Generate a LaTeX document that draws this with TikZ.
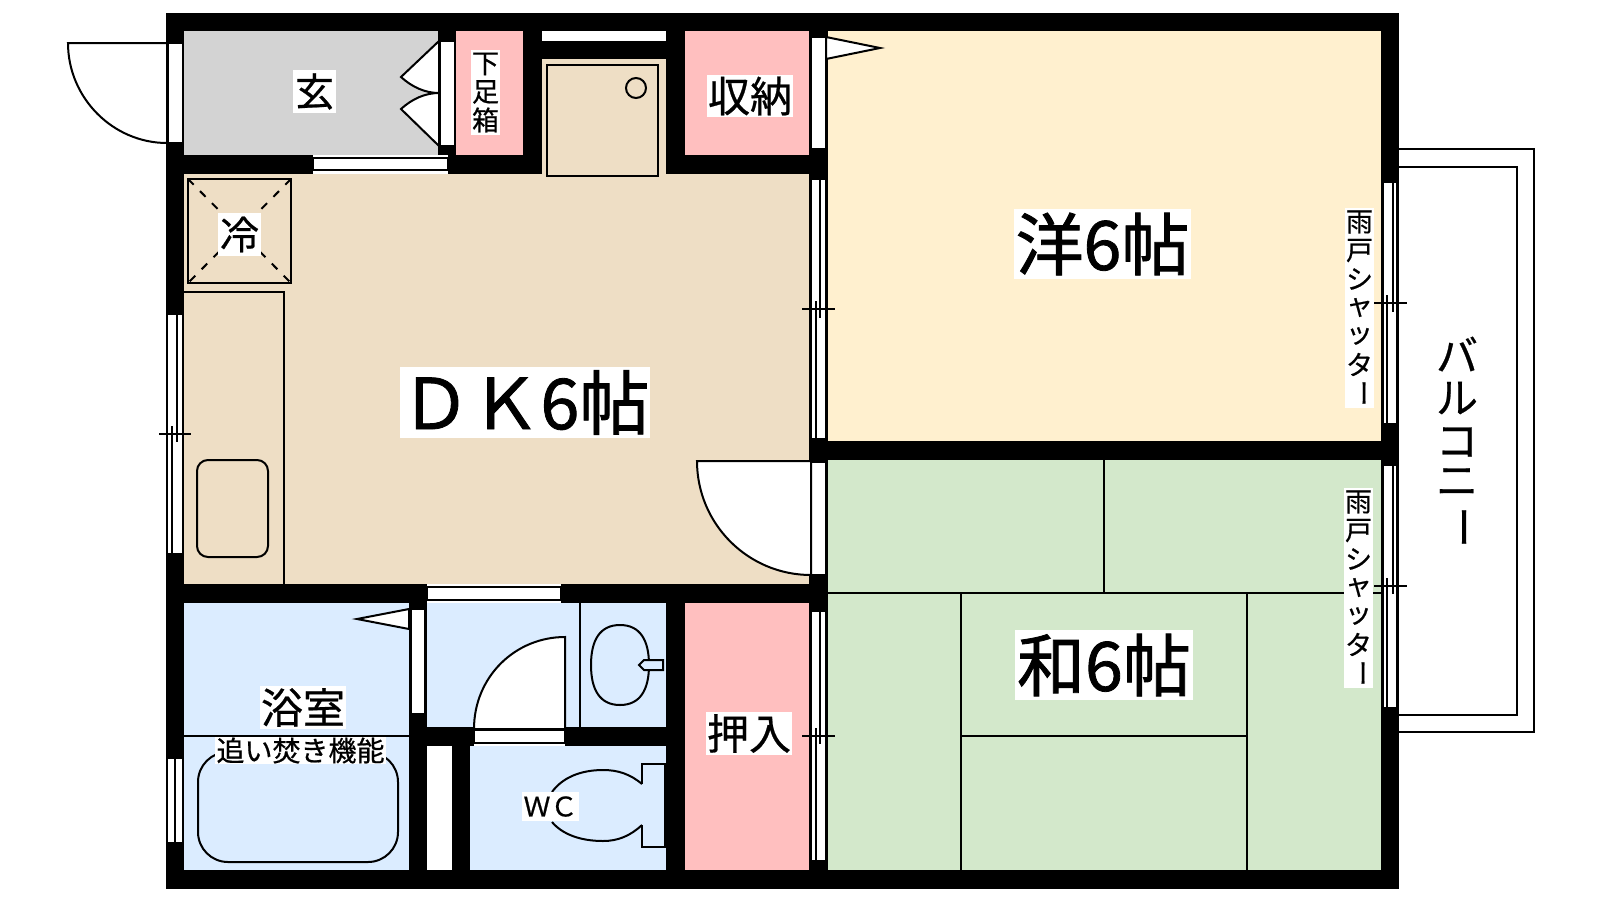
\documentclass[tikz,border=0pt]{standalone}
\usepackage{fontspec}
\setmainfont{Noto Sans CJK JP}[FakeBold=0.6]
\newfontfamily\bigf{Noto Sans CJK JP}[FakeBold=1.2]
\definecolor{beigeR}{HTML}{EEDEC5}
\definecolor{creamR}{HTML}{FFF0CF}
\definecolor{greenR}{HTML}{D3E8CB}
\definecolor{pinkR}{HTML}{FFBFBF}
\definecolor{blueR}{HTML}{DBECFF}
\definecolor{greyR}{HTML}{D3D3D3}
\tikzset{
  ln/.style={draw=black,line width=2pt},
  wall/.style={fill=black,draw=none},
  win/.style={fill=white,draw=black,line width=2pt},
  lab/.style={fill=white,inner sep=0pt,text=black,anchor=center},
  ch/.style={inner sep=0pt,anchor=center,font=\fontsize{27}{27}\selectfont},
  bal/.style={inner sep=0pt,anchor=center,font=\fontsize{42}{42}\selectfont},
}
\newcommand{\shutter}[3]{%
  \fill[white] (#1-14.5,#2) rectangle (#1+14.5,#2+200);
  \foreach \c/\i in {雨/0,戸/1,シ/2,ャ/3,ッ/4,タ/5}{
    \node[ch] (#3\i) at (#1,#2+14+28.5*\i) {\c};
  }
  \node[ch,rotate=-90] (#3x) at (#1,#2+14+28.5*6) {ー};
}
\begin{document}
\begin{tikzpicture}[x=1pt,y=-1pt]
\useasboundingbox (0,0) rectangle (1600,900);
\fill[white] (0,0) rectangle (1600,900);
% rooms
\fill[greyR] (184,31) rectangle (440,155);
\fill[pinkR] (456,31) rectangle (523,155);
\fill[pinkR] (685,31) rectangle (809,155);
\fill[beigeR] (184,174) rectangle (809,584);
\fill[beigeR] (542,59) rectangle (666,174);
\fill[creamR] (828,31) rectangle (1381,441);
\fill[greenR] (828,460) rectangle (1381,870);
\fill[pinkR] (685,603) rectangle (809,870);
\fill[blueR] (184,603) rectangle (409,870);
\fill[blueR] (427,603) rectangle (666,727);
\fill[blueR] (470,746) rectangle (666,870);
% tatami
\draw[ln] (828,593) -- (1381,593);
\draw[ln] (1104,460) -- (1104,593);
\draw[ln] (961,593) -- (961,870);
\draw[ln] (1247,593) -- (1247,870);
\draw[ln] (961,736) -- (1247,736);
% walls
\fill[wall] (166,13) rectangle (1399,31);
\fill[wall] (166,870) rectangle (1399,889);
\fill[wall] (166,13) rectangle (184,889);
\fill[wall] (1381,13) rectangle (1399,889);
\fill[wall] (166,155) rectangle (313,174);
\fill[wall] (448,155) rectangle (542,174);
\fill[wall] (438,31) rectangle (456,155);
\fill[wall] (523,31) rectangle (542,174);
\fill[wall] (542,41) rectangle (666,59);
\fill[wall] (666,31) rectangle (685,174);
\fill[wall] (666,155) rectangle (809,174);
\fill[wall] (809,31) rectangle (828,870);
\fill[wall] (828,441) rectangle (1381,460);
\fill[wall] (166,584) rectangle (427,603);
\fill[wall] (561,584) rectangle (809,603);
\fill[wall] (409,584) rectangle (427,870);
\fill[wall] (409,727) rectangle (666,746);
\fill[wall] (452,746) rectangle (470,870);
\fill[wall] (666,603) rectangle (685,870);
% white strip above the washer
\fill[white] (542,31) rectangle (666,41);
% openings
\fill[white] (313,155) rectangle (448,174);
\draw[win] (313,158) rectangle (448,170);
\fill[white] (427,584) rectangle (561,603);
\draw[win] (427,587) rectangle (561,600);
% entrance door
\draw[win] (167.5,43) rectangle (182.5,143);
\draw[ln,fill=white] (167,43) -- (68,43) .. controls (68,98) and (113,143) .. (167,143) -- cycle;
\draw[win] (440,41) rectangle (455,146);
% shoe-closet double door
\draw[ln,fill=white] (439,41) -- (401,77) .. controls (412,87) and (425,93) .. (439,93) .. controls (425,93) and (412,99) .. (401,109) -- (439,146) -- cycle;
% closet door
\draw[win] (811,37) rectangle (826,149);
\draw[ln,fill=white] (826,37) -- (880,48) -- (826,59) -- cycle;
% sliding windows
\foreach \xa/\xb/\xc/\xd/\ya/\yb/\ym/\yu/\yl/\xl/\xr in {811/816/820/826/180/438/309/318/301/802/835, 811/816/820/826/612/860/736/744/728/802/835, 1383/1387/1393/1397/183/423/303/312/295/1374/1407, 1383/1387/1393/1397/466/707/586/594/578/1374/1407, 167/172/177/183/315/553/434/442/426/159/191}{
  \fill[white] (\xa,\ya) rectangle (\xd,\yb);
  \draw[ln] (\xa,\ya) -- (\xa,\yb);
  \draw[ln] (\xd,\ya) -- (\xd,\yb);
  \draw[ln] (\xc,\ya) -- (\xc,\yu);
  \draw[ln] (\xb,\yl) -- (\xb,\yb);
  \draw[ln] (\xl,\ym) -- (\xr,\ym);
}
% DK door to hall
\draw[win] (811,462) rectangle (826,575);
\draw[ln,fill=white] (811,461) -- (697,461) .. controls (697,524) and (748,575) .. (811,575) -- cycle;
% bath door
\draw[win] (411,609) rectangle (425,714);
\draw[ln,fill=white] (409,609) -- (357,619) -- (409,629) -- cycle;
% bath window
\fill[white] (167,759) rectangle (184,842);
\draw[ln] (167,759) -- (167,842);
\draw[ln] (175,759) -- (175,842);
\draw[ln] (183,759) -- (183,842);
% WC door
\fill[white] (474,727) rectangle (565,746);
\draw[win] (474,729.5) rectangle (565,743);
\draw[ln,fill=white] (565,729) -- (565,637) .. controls (515,637) and (474,677) .. (474,729) -- cycle;
% fixtures
\draw[ln,line width=2.5pt] (188,179) rectangle (291,283);
\draw[ln,dash pattern=on 8pt off 9pt] (188,179) -- (291,283);
\draw[ln,dash pattern=on 8pt off 9pt] (291,179) -- (188,283);
\draw[ln] (184,292) -- (284,292) -- (284,584);
\draw[ln,rounded corners=11pt] (197,460) rectangle (268,557);
\draw[ln] (547,65) rectangle (658,176);
\draw[ln] (636,88) circle[radius=10];
\draw[ln] (184,736) -- (409,736);
\draw[ln,rounded corners=30pt] (198,752) rectangle (398,862);
\draw[ln] (580,603) -- (580,727);
\draw[ln] (620,625) .. controls (640,625) and (649,640) .. (649,665) .. controls (649,690) and (640,705) .. (620,705) .. controls (600,705) and (591,690) .. (591,665) .. controls (591,640) and (600,625) .. (620,625) -- cycle;
\draw[ln,fill=blueR] (663,660) -- (644,660) -- (639,665) -- (644,670) -- (663,670) -- cycle;
\draw[ln] (642,784) -- (642,764) -- (665,764) -- (665,847) -- (642,847) -- (642,825);
\draw[ln] (642,784) .. controls (630,774) and (618,770) .. (603,770) .. controls (580,770) and (562,778) .. (552,792);
\draw[ln] (642,825) .. controls (630,836) and (618,841) .. (603,841) .. controls (580,841) and (562,834) .. (552,822);
% balcony
\draw[ln] (1399,149) -- (1534,149) -- (1534,732) -- (1399,732);
\draw[ln] (1399,167) -- (1517,167) -- (1517,715) -- (1399,715);
% labels
\node[lab,minimum width=43pt,minimum height=43pt,font=\fontsize{39}{39}\selectfont] (genkan) at (314.5,91.5) {玄};
\node[lab,minimum width=43pt,minimum height=43pt,font=\fontsize{39}{39}\selectfont] (rei) at (239.5,234.5) {冷};
\node[lab,minimum width=86pt,minimum height=42pt,font=\fontsize{42}{42}\selectfont] (shuno) at (750,96) {収納};
\node[lab,minimum width=86pt,minimum height=43pt,font=\fontsize{42}{42}\selectfont] (oshi) at (749,733.5) {押入};
\node[lab,minimum width=86pt,minimum height=43pt,font=\fontsize{42}{42}\selectfont] (yoku) at (303,707.5) {浴室};
\node[lab,minimum width=171pt,minimum height=27pt,font=\fontsize{28}{27}\selectfont] (oi) at (300.5,750.5) {追い焚き機能};
\node[lab,minimum width=57pt,minimum height=29pt,font=\fontsize{27}{27}\selectfont] (wc) at (550.5,806.5) {ＷＣ};
\node[lab,minimum width=250pt,minimum height=71pt,font=\bigf\fontsize{70}{70}\selectfont] (dk) at (525,402.5) {ＤＫ6帖};
\node[lab,minimum width=177pt,minimum height=70pt,font=\bigf\fontsize{68}{68}\selectfont] (yo) at (1102.5,244) {洋6帖};
\node[lab,minimum width=178pt,minimum height=70pt,font=\bigf\fontsize{68}{68}\selectfont] (wa) at (1104,665) {和6帖};
% shoe closet label
\fill[white] (471,50) rectangle (500,135);
\node[ch] (g1) at (485.5,64) {下};
\node[ch] (g2) at (485.5,92) {足};
\node[ch] (g3) at (485.5,120) {箱};
\shutter{1359.5}{208}{sa}
\shutter{1358.5}{488}{sb}
% balcony label
\node[bal] (b1) at (1457,354) {バ};
\node[bal] (b2) at (1457,398) {ル};
\node[bal] (b3) at (1457,442) {コ};
\node[bal] (b4) at (1457,482) {ニ};
\node[bal,rotate=-90] (b5) at (1457,527) {ー};
\end{tikzpicture}
\end{document}
